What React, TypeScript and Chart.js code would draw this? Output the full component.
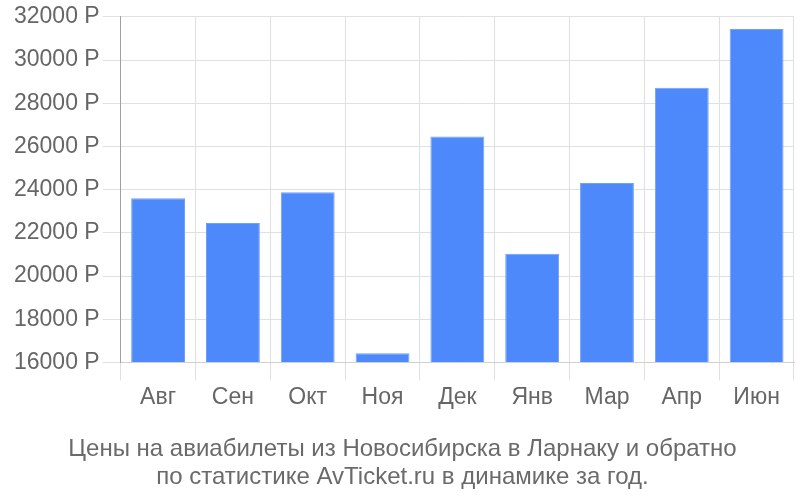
import React, { useEffect, useRef } from "react";
import { Chart, registerables } from "chart.js";

Chart.register(...registerables);

const categories = ["Авг", "Сен", "Окт", "Ноя", "Дек", "Янв", "Мар", "Апр", "Июн"];
const prices = [23600, 22450, 23880, 16420, 26460, 21030, 24300, 28720, 31440];
const yMin = 16000;
const yMax = 32000;
const yStep = 2000;
const currency = "Р";
const titleLines = [
  "Цены на авиабилеты из Новосибирска в Ларнаку и обратно",
  "по статистике AvTicket.ru в динамике за год.",
];

export default function App() {
  const ref = useRef<HTMLCanvasElement | null>(null);
  useEffect(() => {
    if (!ref.current) return;
    const font = "'Liberation Sans', Arial, sans-serif";
    const chart = new Chart(ref.current, {
      type: "bar",
      data: {
        labels: categories,
        datasets: [
          {
            data: prices,
            backgroundColor: "#4d89fb",
            borderColor: "#6f9ffc",
            borderWidth: 1,
            base: yMin,
          },
        ],
      },
      options: {
        animation: false,
        responsive: false,
        layout: { padding: { left: 11, right: 6, top: 4, bottom: 8 } },
        plugins: {
          legend: { display: false },
          tooltip: { enabled: false },
          title: {
            display: true,
            position: "bottom",
            text: titleLines,
            color: "#6a6a6a",
            font: { family: font, size: 24, weight: "normal", lineHeight: 1.1875 },
            padding: { top: 21, bottom: 0 },
          },
        },
        scales: {
          x: {
            grid: { color: "#e0e0e0", tickLength: 18, offset: true },
            border: { color: "#d0d0d0" },
            ticks: { color: "#666", font: { family: font, size: 23 }, padding: 3 },
          },
          y: {
            min: yMin,
            max: yMax,
            grid: { color: "#e0e0e0", tickLength: 18 },
            border: { color: "#a0a0a0" },
            ticks: {
              stepSize: yStep,
              color: "#666",
              padding: 3,
              font: { family: font, size: 23 },
              callback: (v: any) => `${v} ${currency}`,
            },
          },
        },
      },
    });
    return () => chart.destroy();
  }, []);
  return (
    <div style={{ position: "fixed", left: 0, top: 0, width: 800, height: 500, background: "#fff" }}>
      <canvas ref={ref} width={800} height={500} />
    </div>
  );
}
